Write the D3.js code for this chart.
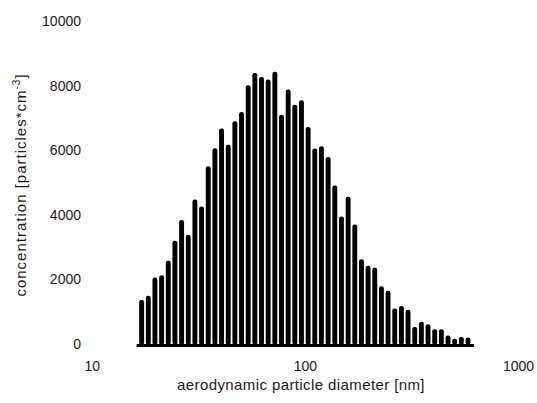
<!DOCTYPE html>
<html>
<head>
<meta charset="utf-8">
<script src="https://cdn.jsdelivr.net/npm/d3@7"></script>
<style>
  body { margin: 0; background: #fff; }
  svg { display: block; font-family: "Liberation Sans", Arial, sans-serif; }
  .tick text { fill: #1a1a1a; }
</style>
</head>
<body>
<div id="chart"></div>
<script>
// particle diameter of each size channel [nm]
const diameters = [17.15, 18.43, 19.80, 21.28, 22.87, 24.57, 26.41, 28.38, 30.49, 32.77,
  35.21, 37.84, 40.66, 43.70, 46.96, 50.46, 54.23, 58.27, 62.62, 67.29,
  72.31, 77.70, 83.50, 89.73, 96.42, 103.6, 111.3, 119.6, 128.6, 138.2,
  148.5, 159.6, 171.5, 184.3, 198.0, 212.8, 228.7, 245.7, 264.1, 283.8,
  304.9, 327.7, 352.1, 378.4, 406.6, 437.0, 469.6, 504.6, 542.3, 582.7]

// concentration [particles*cm-3]
const concentrations = [1360, 1490, 2060, 2130, 2580, 3200, 3840, 3380, 4470, 4260,
  5500, 6060, 6670, 6170, 6900, 7180, 8010, 8390, 8270, 8190,
  8430, 7100, 7880, 7410, 7550, 6720, 6050, 6120, 5790, 4910,
  3950, 4560, 3700, 2620, 2420, 2360, 1790, 1650, 1100, 1180,
  1060, 530, 690, 610, 460, 460, 260, 160, 220, 200]

const xTicks = [10, 100, 1000]
const yTicks = [0, 2000, 4000, 6000, 8000, 10000]

const width = 537
const height = 403

const dataset = diameters.map((d, i) => [d, concentrations[i]])

const xScale = d3.scaleLog()
                  .domain([10, 1000])
                  .range([91.7, 518])

const yScale = d3.scaleLinear()
                  .domain([0, 10000])
                  .range([344, 21])

const svg = d3.select("#chart")
              .append("svg")
                .attr("width", width)
                .attr("height", height)

// Bars
const barWidth = 4.9
svg.append("g")
    .selectAll("rect")
    .data(dataset).enter()
      .append("rect")
        .attr("x", d => xScale(d[0]) - barWidth/2)
        .attr("y", d => yScale(d[1]))
        .attr("width", barWidth)
        .attr("height", d => yScale(0) - yScale(d[1]) + 1)
        .attr("rx", 2.2)
        .attr("fill", "#000")

// baseline under the bars
svg.append("line")
    .attr("x1", xScale(diameters[0]) - 5)
    .attr("x2", xScale(diameters[diameters.length - 1]) + 6)
    .attr("y1", yScale(0) + 1.5)
    .attr("y2", yScale(0) + 1.5)
    .attr("stroke", "#000")
    .attr("stroke-width", 3)

// X Axis
const xAxis = d3.axisBottom(xScale)
                .tickValues(xTicks)
                .tickFormat(d3.format("d"))
                .tickSize(0)
                .tickPadding(17)

svg.append("g")
    .attr("transform", "translate(0," + yScale(0) + ")")
    .call(xAxis)
    .call(g => g.select(".domain").remove())
    .selectAll("text")
      .attr("font-size", 14)

// Y Axis
const yAxis = d3.axisLeft(yScale)
                .tickValues(yTicks)
                .tickFormat(d3.format("d"))
                .tickSize(0)
                .tickPadding(5)

svg.append("g")
    .attr("transform", "translate(86,0)")
    .call(yAxis)
    .call(g => g.select(".domain").remove())
    .selectAll("text")
      .attr("font-size", 14)

// axis titles
svg.append("text")
    .text("aerodynamic particle diameter [nm]")
    .attr("text-anchor", "middle")
    .attr("font-size", 15)
    .attr("letter-spacing", 0.4)
    .attr("fill", "#1a1a1a")
    .attr("transform", "translate(301,390)")

const yTitle = svg.append("text")
    .attr("text-anchor", "middle")
    .attr("font-size", 15)
    .attr("letter-spacing", 1)
    .attr("fill", "#1a1a1a")
    .attr("transform", "translate(26,185)rotate(-90)")

yTitle.append("tspan").text("concentration [particles*cm")
yTitle.append("tspan").text("-3").attr("font-size", 10).attr("dy", -6)
yTitle.append("tspan").text("]").attr("dy", 6)
</script>
</body>
</html>
